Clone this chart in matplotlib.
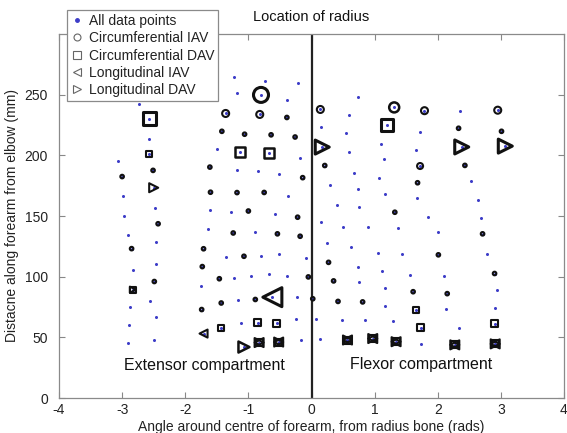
import matplotlib
matplotlib.use("Agg")
import matplotlib.pyplot as plt
from matplotlib.lines import Line2D

plt.rcParams['font.family'] = ['Liberation Sans', 'DejaVu Sans']
plt.rcParams['axes.unicode_minus'] = False

# ---------------- data ----------------
# all electrode locations (angle in rad, distance in mm)
all_x = [-3.07, -3.00, -2.99, -2.97, -2.90, -2.85, -2.83, -2.83, -2.88, -2.89, -2.90,
         -2.73, -2.57, -2.58, -2.57, -2.51, -2.50, -2.48, -2.43, -2.46, -2.46, -2.49, -2.56, -2.47, -2.50,
         -1.50, -1.61, -1.60, -1.61, -1.64, -1.71, -1.73, -1.75, -1.74, -1.71,
         -1.36, -1.42, -1.36, -1.46, -1.43, -1.43,
         -1.22, -1.18, -1.06, -1.13, -1.18, -1.18, -1.27, -1.24, -1.07, -1.23, -1.16, -1.11, -1.07,
         -0.74, -0.80, -0.82, -0.64, -0.68, -0.85, -0.75, -1.00, -0.89, -0.80, -0.96, -0.89, -0.85, -0.83,
         -0.51, -0.58, -0.54, -0.51, -0.68, -0.62, -0.55, -0.52,
         -0.22, -0.39, -0.39, -0.26, -0.19, -0.14, -0.37, -0.22, -0.18, -0.08, -0.39, -0.05, -0.23, -0.25, -0.17,
         0.02, 0.07, 0.13, 0.14, 0.15, 0.17, 0.21, 0.30, 0.40, 0.15, 0.25, 0.27, 0.35, 0.42, 0.48, 0.57,
         0.73, 0.60, 0.54, 0.59, 0.67, 0.74, 0.75, 0.50, 0.63, 0.74, 0.75, 0.81, 0.85, 0.97,
         1.07, 0.90, 1.05, 1.12, 1.16, 1.16, 1.29, 1.34,
         1.31, 1.19, 1.10, 1.15, 1.17, 1.32, 1.37, 1.43, 1.56, 1.61, 1.65, 1.73, 1.73,
         1.79, 1.72, 1.66, 1.72, 1.68, 1.67, 1.85, 2.00, 2.01, 2.10, 2.15, 2.13, 2.34, 2.27,
         2.36, 2.33, 2.38, 2.43, 2.52, 2.63, 2.69, 2.71, 2.78, 2.90, 2.94, 2.90, 2.90, 2.91,
         2.95, 3.01, 3.07]
all_y = [195.5, 182.5, 166.5, 150.0, 134.3, 123.1, 105.6, 89.3, 75.0, 59.9, 45.2,
         242.1, 230.0, 213.8, 200.8, 187.6, 173.3, 157.0, 143.6, 128.3, 110.3, 96.0, 80.2, 66.8, 48.2,
         205.0, 190.3, 169.6, 154.7, 139.5, 123.0, 108.3, 92.7, 72.9, 53.1,
         234.5, 219.8, 116.1, 98.3, 78.3, 57.6,
         264.9, 251.2, 217.4, 202.7, 188.0, 169.3, 153.5, 136.0, 116.8, 99.3, 80.8, 61.6, 42.0,
         261.4, 249.8, 233.7, 216.9, 202.2, 186.8, 169.4, 154.1, 137.2, 117.4, 100.7, 81.2, 62.1, 45.7,
         184.3, 151.8, 135.3, 118.8, 102.1, 83.1, 61.8, 46.1,
         259.5, 245.7, 231.2, 215.1, 197.9, 181.6, 166.5, 149.0, 133.3, 115.5, 100.2, 99.8, 83.1, 65.0, 47.9,
         81.8, 65.3, 49.0, 237.8, 223.6, 206.8, 191.6, 175.2, 158.9, 145.0, 127.4, 111.8, 96.5, 79.6, 64.5, 47.8,
         248.2, 233.1, 218.0, 203.1, 185.4, 172.1, 157.3, 140.9, 124.1, 107.9, 95.2, 79.2, 64.3, 49.0,
         181.7, 140.9, 119.4, 104.5, 90.9, 75.9, 63.6, 46.4,
         239.5, 225.2, 209.7, 197.3, 168.4, 153.1, 139.7, 118.4, 101.5, 87.6, 72.3, 57.9, 44.8,
         236.8, 219.2, 204.8, 191.2, 177.4, 164.9, 149.0, 136.8, 118.0, 100.7, 86.0, 73.3, 57.3, 43.8,
         236.4, 222.3, 206.9, 191.7, 178.8, 163.1, 148.1, 135.3, 118.8, 102.6, 88.7, 74.4, 61.0, 44.6,
         237.2, 219.8, 207.6]

# circumferential IAV (circles), amplitude ~ marker diameter
circ_iav_x = [-3.00, -2.85, -2.51, -2.43, -2.49, -1.61, -1.60, -1.71, -1.73, -1.74, -1.42, -1.46, -1.43,
              -1.06, -1.18, -1.24, -1.07, -0.64, -0.75, -1.00, -0.89, -0.54, -0.39, -0.26, -0.14, -0.22,
              -0.18, -0.05, 0.02, 0.21, 0.27, 0.35, 0.42, 0.81, 1.32, 1.61, 1.68, 2.01, 2.15, 2.33, 2.43,
              2.71, 2.90, 3.01,
              -1.36, -0.82, 0.14, 1.79, 2.95, 1.72,
              -0.80, 1.31]
circ_iav_y = [182.5, 123.1, 187.6, 143.6, 96.0, 190.3, 169.6, 123.0, 108.3, 72.9, 219.8, 98.3, 78.3,
              217.4, 169.3, 136.0, 116.8, 216.9, 169.4, 154.1, 81.2, 135.3, 231.2, 215.1, 181.6, 149.0,
              133.3, 99.8, 81.8, 191.6, 111.8, 96.5, 79.6, 79.2, 153.1, 87.6, 177.4, 118.0, 86.0, 222.3, 191.7,
              135.3, 102.6, 219.8,
              234.5, 233.7, 237.8, 236.8, 237.2, 191.2,
              249.8, 239.5]
circ_iav_amp = [3.6] * 44 + [7, 7, 7, 7, 7, 6] + [15, 10]

# circumferential DAV (squares)
circ_dav_x = [-2.57, 1.19, -1.13, -0.68, -2.57, -1.43, 1.65, -2.83, -0.85, -0.55, 1.73, 2.90,
              -0.83, -0.52, 0.57, 0.97, 1.34, 2.27, 2.91]
circ_dav_y = [230.0, 225.2, 202.7, 202.2, 200.8, 57.6, 72.3, 89.3, 62.1, 61.8, 57.9, 61.0,
              45.7, 46.1, 47.8, 49.0, 46.4, 43.8, 44.6]
circ_dav_amp = [13, 12, 10, 10, 6, 6, 6, 6, 7, 7, 7, 7,
                7, 7, 7, 7, 7, 7, 7]

# longitudinal IAV (left triangles)
long_iav_x = [-1.71, -0.62, -0.83, -0.52, 0.57, 0.97, 1.34, 2.27, 2.91]
long_iav_y = [53.1, 83.1, 45.7, 46.1, 47.8, 49.0, 46.4, 43.8, 44.6]
long_iav_amp = [8, 19, 9, 9, 9, 9, 9, 9, 9]

# longitudinal DAV (right triangles)
long_dav_x = [-2.50, -1.07, 0.17, 2.38, 3.07, -2.83, -0.83, -0.52, 0.57, 0.97, 1.34, 2.27, 2.91]
long_dav_y = [173.3, 42.0, 206.8, 206.9, 207.6, 89.3, 45.7, 46.1, 47.8, 49.0, 46.4, 43.8, 44.6]
long_dav_amp = [9, 11, 14, 14, 14, 6, 9, 9, 9, 9, 9, 9, 9]

legend_labels = ['All data points', 'Circumferential IAV', 'Circumferential DAV',
                 'Longitudinal IAV', 'Longitudinal DAV']
x_ticks = [-4, -3, -2, -1, 0, 1, 2, 3, 4]
y_ticks = [0, 50, 100, 150, 200, 250]

# ---------------- figure ----------------
fig = plt.figure(figsize=(5.67, 4.33), dpi=100)
ax = fig.add_axes([59 / 567, 35 / 433, 505 / 567, 364 / 433])

dot_col = '#3c3cc8'
edge = '#111111'
px2pt = 0.72

ax.plot(all_x, all_y, linestyle='none', marker='o', markersize=2.2,
        markerfacecolor=dot_col, markeredgecolor=dot_col, markeredgewidth=0, zorder=3)

def overlay(xs, ys, amps, marker):
    lws = [2.2 if a >= 12 else (1.8 if a >= 10 else 1.5) for a in amps]
    ax.scatter(xs, ys, s=[(a * px2pt) ** 2 for a in amps], marker=marker,
               facecolors='none', edgecolors=edge, linewidths=lws, zorder=4)

overlay(circ_iav_x, circ_iav_y, circ_iav_amp, 'o')
overlay(circ_dav_x, circ_dav_y, circ_dav_amp, 's')
overlay(long_iav_x, long_iav_y, long_iav_amp, '<')
overlay(long_dav_x, long_dav_y, long_dav_amp, '>')

ax.axvline(0, color='#222222', linewidth=1.6, zorder=2)

ax.set_xlim(-4, 4)
ax.set_ylim(0, 300)
ax.set_xticks(x_ticks)
ax.set_yticks(y_ticks)
ax.tick_params(direction='in', top=True, right=True, length=4, labelsize=10, width=0.8,
               color='#888888', labelcolor='#222222')
ax.tick_params(axis='y', pad=8)
for sp in ax.spines.values():
    sp.set_linewidth(0.9)
    sp.set_color('#8a8a8a')

ax.set_xlabel('Angle around centre of forearm, from radius bone (rads)', fontsize=10, labelpad=2,
              color='#222222')
ax.set_ylabel('Distacne along forearm from elbow (mm)', fontsize=10, labelpad=4, color='#222222')

ax.text(0, 314, 'Location of radius', ha='center', va='center', fontsize=10.5, clip_on=False,
        color='#111111')
ax.text(-1.70, 27, 'Extensor compartment', ha='center', va='center', fontsize=11.5, color='#111111')
ax.text(1.73, 28, 'Flexor compartment', ha='center', va='center', fontsize=11.5, color='#111111')

handles = [
    Line2D([], [], linestyle='none', marker='o', markersize=2.5, markerfacecolor=dot_col, markeredgecolor=dot_col),
    Line2D([], [], linestyle='none', marker='o', markersize=5, markerfacecolor='none', markeredgecolor='#666666', markeredgewidth=0.8),
    Line2D([], [], linestyle='none', marker='s', markersize=5.5, markerfacecolor='none', markeredgecolor='#666666', markeredgewidth=0.8),
    Line2D([], [], linestyle='none', marker='<', markersize=5.5, markerfacecolor='none', markeredgecolor='#666666', markeredgewidth=0.8),
    Line2D([], [], linestyle='none', marker='>', markersize=5.5, markerfacecolor='none', markeredgecolor='#666666', markeredgewidth=0.8),
]
leg = ax.legend(handles, legend_labels, loc='upper left', bbox_to_anchor=(0.016, 1.066),
                fontsize=10, frameon=True, fancybox=False, framealpha=1, edgecolor='#8a8a8a',
                handlelength=0.8, handletextpad=0.5, labelspacing=0.24, borderpad=0.28,
                borderaxespad=0)
leg.get_frame().set_linewidth(0.9)
leg.set_zorder(10)
for t in leg.get_texts():
    t.set_color('#222222')

fig.savefig('out.png', dpi=100)
